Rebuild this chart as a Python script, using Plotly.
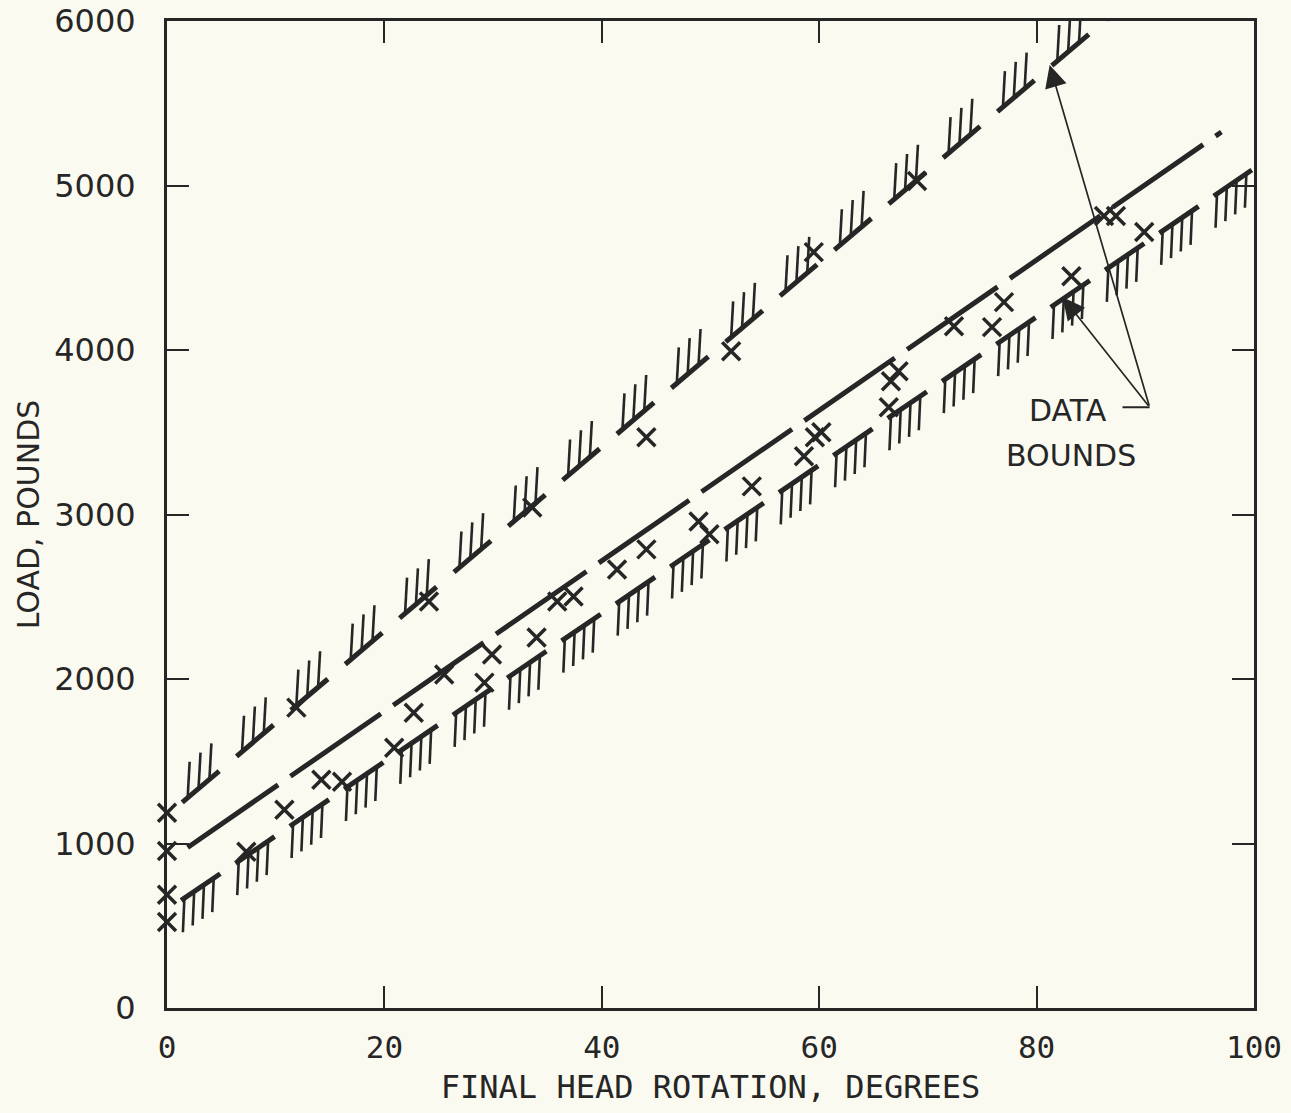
import numpy as np
import plotly.graph_objects as go

# ---------------- data ----------------
rotation_deg = [0, 0, 0, 0, 7.3, 10.8, 11.9, 14.2, 16.1, 20.9, 22.7, 24.1, 25.5,
                29.2, 29.9, 33.6, 34.0, 35.9, 37.4, 41.4, 44.1, 44.1, 48.9, 49.9,
                51.9, 53.8, 58.6, 59.5, 59.6, 60.2, 66.4, 66.6, 67.3, 69.0, 72.4,
                75.9, 77.0, 83.2, 86.2, 87.3, 89.9]
load_lb = [1187, 955, 688, 523, 950, 1205, 1826, 1388, 1376, 1582, 1795, 2471, 2027,
           1978, 2149, 3043, 2252, 2471, 2502, 2666, 2788, 3469, 2958, 2880,
           3993, 3171, 3354, 4595, 3470, 3500, 3652, 3810, 3871, 5027, 4145,
           4139, 4291, 4449, 4814, 4814, 4717]

mean_x = [1.9, 97.0]
mean_y = [976, 5325]
upper_x = [1.4, 90.0]
upper_y = [1250, 6210]
lower_x = [1.3, 99.8]
lower_y = [654, 5094]

x_ticks = [0, 20, 40, 60, 80, 100]
y_ticks = [0, 1000, 2000, 3000, 4000, 5000, 6000]

annot_tail = (90.4, 3652)
annot_tips_x = [81.2, 82.4]
annot_tips_y = [5732, 4321]

# ---------------- style ----------------
INK = "#262626"
PAPER = "#fbfaf0"

fig = go.Figure()


def dashed_bound(xs, ys, dash, gap, hatch_offsets, hatch_len, lean):
    seg_x, seg_y, shapes = [], [], []
    s = xs[0]
    while s < xs[1]:
        e = min(s + dash, xs[1])
        seg_x += [s, e, None]
        seg_y += [float(np.interp(s, xs, ys)), float(np.interp(e, xs, ys)), None]
        for off in hatch_offsets:
            hx = s + off
            if hx <= e:
                hy = float(np.interp(hx, xs, ys))
                shapes.append(dict(type="line", xref="x", yref="y",
                                   xsizemode="pixel", ysizemode="pixel",
                                   xanchor=hx, yanchor=hy,
                                   x0=0, x1=lean, y0=0, y1=hatch_len,
                                   line=dict(color=INK, width=2.6)))
        s += dash + gap
    return seg_x, seg_y, shapes


ux, uy, ushapes = dashed_bound(upper_x, upper_y, 3.4, 1.6, [0.5, 1.5, 2.5], 36, 2)
lx, ly, lshapes = dashed_bound(lower_x, lower_y, 3.6, 1.4, [0.3, 1.2, 2.1, 3.0], -34, -1.5)

fig.add_trace(go.Scatter(x=ux, y=uy, mode="lines",
                         line=dict(color=INK, width=5), hoverinfo="skip",
                         showlegend=False))
fig.add_trace(go.Scatter(x=lx, y=ly, mode="lines",
                         line=dict(color=INK, width=5), hoverinfo="skip",
                         showlegend=False))
fig.add_trace(go.Scatter(x=mean_x, y=mean_y, mode="lines",
                         line=dict(color=INK, width=5, dash="110px,15px"),
                         hoverinfo="skip", showlegend=False))
fig.add_trace(go.Scatter(x=rotation_deg, y=load_lb, mode="markers",
                         marker=dict(symbol="x-thin-open", size=18, color=INK,
                                     line=dict(color=INK, width=3.5)),
                         showlegend=False, cliponaxis=False))

shapes = ushapes + lshapes
# leader line for the "DATA BOUNDS" label
shapes.append(dict(type="line", xref="x", yref="y", x0=87.9, x1=annot_tail[0],
                   y0=annot_tail[1], y1=annot_tail[1],
                   line=dict(color=INK, width=2)))

annotations = []
for tx, ty in zip(annot_tips_x, annot_tips_y):
    annotations.append(dict(x=tx, y=ty, xref="x", yref="y",
                            ax=annot_tail[0], ay=annot_tail[1],
                            axref="x", ayref="y", text="", showarrow=True,
                            arrowhead=2, arrowsize=2.6, arrowwidth=1.7,
                            arrowcolor=INK))
annotations.append(dict(x=82.9, y=3634, xref="x", yref="y", text="DATA",
                        showarrow=False,
                        font=dict(family="DejaVu Sans", size=30, color=INK)))
annotations.append(dict(x=83.2, y=3360, xref="x", yref="y", text="BOUNDS",
                        showarrow=False,
                        font=dict(family="DejaVu Sans", size=30, color=INK)))

fig.update_layout(
    width=1291, height=1113,
    margin=dict(l=167, r=37, t=21, b=105, autoexpand=False),
    paper_bgcolor=PAPER, plot_bgcolor=PAPER,
    shapes=shapes, annotations=annotations,
    showlegend=False,
)
fig.update_xaxes(
    range=[0, 100], tickvals=x_ticks, ticktext=[str(v) for v in x_ticks],
    ticks="inside", ticklen=22, tickwidth=2, tickcolor=INK,
    showline=True, linewidth=3, linecolor=INK, mirror="ticks",
    showgrid=False, zeroline=False, ticklabelstandoff=10, automargin=False,
    tickfont=dict(family="DejaVu Sans Mono", size=31, color=INK),
    title=dict(text="FINAL HEAD ROTATION, DEGREES", standoff=12,
               font=dict(family="DejaVu Sans Mono", size=32, color=INK)),
)
fig.update_yaxes(
    range=[0, 6000], tickvals=y_ticks, ticktext=[str(v) for v in y_ticks],
    ticks="inside", ticklen=22, tickwidth=2, tickcolor=INK,
    showline=True, linewidth=3, linecolor=INK, mirror="ticks",
    showgrid=False, zeroline=False, ticklabelstandoff=22, automargin=False,
    tickfont=dict(family="DejaVu Sans", size=32, color=INK),
    title=dict(text="LOAD, POUNDS", standoff=6,
               font=dict(family="DejaVu Sans", size=30, color=INK)),
)

fig.write_html("out.html")
